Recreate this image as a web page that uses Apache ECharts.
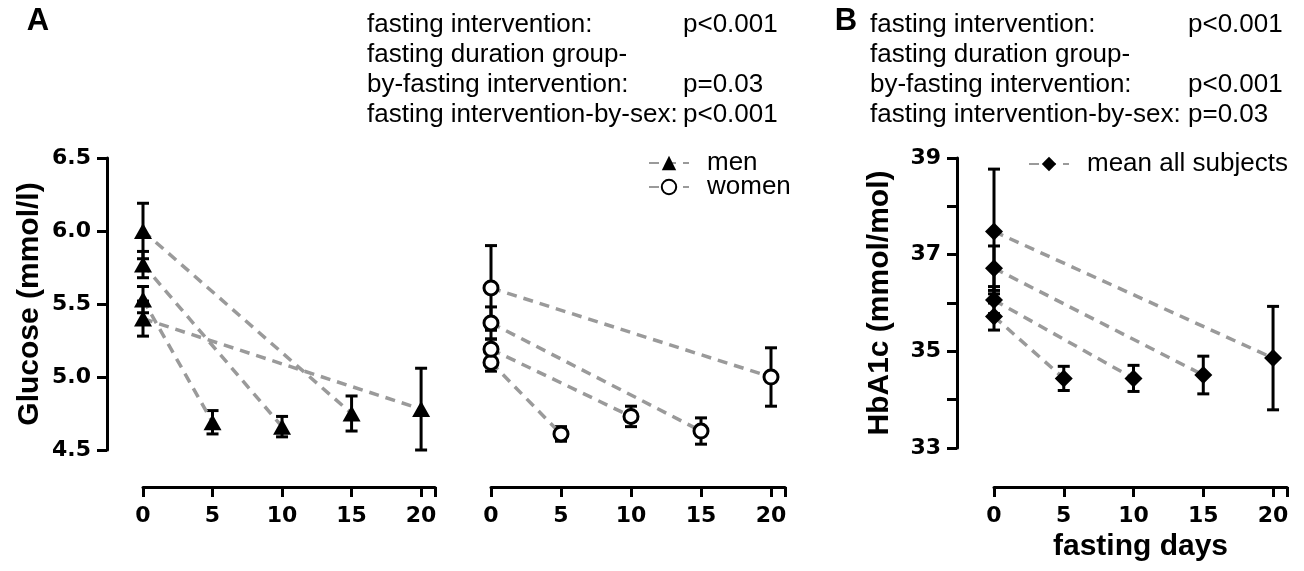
<!DOCTYPE html>
<html><head><meta charset="utf-8">
<script src="https://cdn.jsdelivr.net/npm/echarts@6/dist/echarts.min.js"></script>
<style>html,body{margin:0;padding:0;background:#fff}#c{width:1304px;height:571px}</style>
</head><body><div id="c"></div><script>
// ---- data ----
const durations = [5, 10, 15, 20];
const menBaseMean = [5.53, 5.77, 6.00, 5.40];
const menBaseErr = [0.09, 0.09, 0.19, 0.12];
const menPostMean = [4.69, 4.66, 4.75, 4.78];
const menPostErr = [0.08, 0.07, 0.12, 0.28];
const womenBaseMean = [5.10, 5.19, 5.37, 5.61];
const womenBaseErr = [0.06, 0.07, 0.11, 0.29];
const womenPostMean = [4.61, 4.73, 4.63, 5.00];
const womenPostErr = [0.05, 0.07, 0.09, 0.20];
const hbaBaseMean = [35.72, 36.06, 36.72, 37.48];
const hbaBaseErr = [0.28, 0.28, 0.46, 1.29];
const hbaPostMean = [34.44, 34.44, 34.51, 34.86];
const hbaPostErr = [0.25, 0.27, 0.39, 1.07];
const xTicks = [0, 5, 10, 15, 20];
const xAxisEnd = 21;
const glucoseTicks = [4.5, 5.0, 5.5, 6.0, 6.5];
const hbaTicks = [33, 34, 35, 36, 37, 38, 39];
const hbaLabelled = [33, 35, 37, 39];
const statsA = [['fasting intervention:', 'p<0.001'], ['fasting duration group-', ''], ['by-fasting intervention:', 'p=0.03'], ['fasting intervention-by-sex:', 'p<0.001']];
const statsB = [['fasting intervention:', 'p<0.001'], ['fasting duration group-', ''], ['by-fasting intervention:', 'p<0.001'], ['fasting intervention-by-sex:', 'p=0.03']];

// ---- styles ----
const BLACK = '#000';
const GRAY = '#9a9a9a';
const tickFont = {fontFamily: 'DejaVu Sans', fontWeight: 'bold', fontSize: 22, color: BLACK};
const titleFont = {fontFamily: 'Liberation Sans', fontWeight: 'bold', fontSize: 30, color: BLACK, verticalAlign: 'middle'};
const axisLine = {show: true, onZero: false, lineStyle: {color: BLACK, width: 3}};
const axisTick = {show: true, length: 10, lineStyle: {color: BLACK, width: 3}};

function xAxisCfg(gridIndex, extra) {
  return Object.assign({
    type: 'value', gridIndex, min: xTicks[0], max: xAxisEnd, interval: xTicks[1] - xTicks[0],
    offset: 37, axisLine, axisTick, splitLine: {show: false},
    axisLabel: Object.assign({margin: 18, formatter: v => xTicks.indexOf(v) >= 0 ? String(v) : ''}, tickFont)
  }, extra || {});
}

function errRender(params, api) {
  const x = api.value(0), lo = api.value(1), hi = api.value(2);
  const a = api.coord([x, lo]), b = api.coord([x, hi]);
  const w = 6;
  const st = {stroke: BLACK, lineWidth: 3, fill: null};
  return {type: 'group', children: [
    {type: 'line', shape: {x1: a[0], y1: a[1], x2: b[0], y2: b[1]}, style: st},
    {type: 'line', shape: {x1: a[0] - w, y1: a[1], x2: a[0] + w, y2: a[1]}, style: st},
    {type: 'line', shape: {x1: b[0] - w, y1: b[1], x2: b[0] + w, y2: b[1]}, style: st}
  ]};
}

const series = [];
function addGroup(name, axisIdx, baseM, baseE, postM, postE, symbol, symbolSize, itemStyle) {
  const err = [];
  durations.forEach((d, i) => {
    series.push({
      name, type: 'line', xAxisIndex: axisIdx, yAxisIndex: axisIdx,
      data: [[0, baseM[i]], [d, postM[i]]],
      symbol, symbolSize, showSymbol: true, itemStyle,
      lineStyle: {color: GRAY, width: 3.5, type: [10, 7]},
      z: 3, silent: true
    });
    err.push([0, baseM[i] - baseE[i], baseM[i] + baseE[i]]);
    err.push([d, postM[i] - postE[i], postM[i] + postE[i]]);
  });
  series.push({type: 'custom', xAxisIndex: axisIdx, yAxisIndex: axisIdx, renderItem: errRender, data: err, z: 2, silent: true});
}
addGroup('men', 0, menBaseMean, menBaseErr, menPostMean, menPostErr, 'triangle', [18, 16], {color: BLACK});
addGroup('women', 1, womenBaseMean, womenBaseErr, womenPostMean, womenPostErr, 'circle', 14, {color: '#fff', borderColor: BLACK, borderWidth: 3});
addGroup('mean all subjects', 2, hbaBaseMean, hbaBaseErr, hbaPostMean, hbaPostErr, 'diamond', 18, {color: BLACK});

const legendText = {fontFamily: 'Liberation Sans', fontSize: 26, lineHeight: 24, color: BLACK, padding: [0, 0, 0, 13]};

const graphic = [];
function addStats(rows, x1, x2) {
  rows.forEach((r, i) => {
    graphic.push({type: 'text', x: x1, y: 25 + 30 * i, style: {text: r[0], fontFamily: 'Liberation Sans', fontSize: 26, fill: BLACK, verticalAlign: 'middle', align: 'left'}});
    if (r[1]) graphic.push({type: 'text', x: x2, y: 25 + 30 * i, style: {text: r[1], fontFamily: 'Liberation Sans', fontSize: 26, fill: BLACK, verticalAlign: 'middle', align: 'left'}});
  });
}
addStats(statsA, 367, 683);
addStats(statsB, 870, 1188);
graphic.push({type: 'text', x: 38, y: 21, style: {text: 'A', fontFamily: 'Liberation Sans', fontWeight: 'bold', fontSize: 31, fill: BLACK, align: 'center', verticalAlign: 'middle'}});
graphic.push({type: 'text', x: 846, y: 21, style: {text: 'B', fontFamily: 'Liberation Sans', fontWeight: 'bold', fontSize: 31, fill: BLACK, align: 'center', verticalAlign: 'middle'}});

const option = {
  animation: false,
  backgroundColor: '#fff',
  grid: [
    {left: 143, top: 158, width: 292, height: 292},
    {left: 491, top: 158, width: 294, height: 292},
    {left: 994, top: 158, width: 293, height: 290}
  ],
  xAxis: [
    xAxisCfg(0),
    xAxisCfg(1),
    xAxisCfg(2, {offset: 39, name: 'fasting days', nameLocation: 'middle', nameGap: 60, nameTextStyle: titleFont})
  ],
  yAxis: [
    {type: 'value', gridIndex: 0, min: glucoseTicks[0], max: glucoseTicks[glucoseTicks.length - 1], interval: glucoseTicks[1] - glucoseTicks[0],
     offset: 36, axisLine, axisTick, splitLine: {show: false},
     axisLabel: Object.assign({margin: 16, formatter: v => v.toFixed(1)}, tickFont),
     name: 'Glucose (mmol/l)', nameLocation: 'middle', nameGap: 77, nameRotate: 90, nameTextStyle: titleFont},
    {type: 'value', gridIndex: 1, min: glucoseTicks[0], max: glucoseTicks[glucoseTicks.length - 1], show: false},
    {type: 'value', gridIndex: 2, min: hbaTicks[0], max: hbaTicks[hbaTicks.length - 1], interval: hbaTicks[1] - hbaTicks[0],
     offset: 37, axisLine, axisTick, splitLine: {show: false},
     axisLabel: Object.assign({margin: 16, formatter: v => hbaLabelled.indexOf(v) >= 0 ? String(v) : ''}, tickFont),
     name: 'HbA1c (mmol/mol)', nameLocation: 'middle', nameGap: 77, nameRotate: 90, nameTextStyle: titleFont}
  ],
  legend: [
    {data: ['men', 'women'], orient: 'vertical', left: 643, top: 145, itemWidth: 40, itemHeight: 18, itemGap: -2, textStyle: legendText, selectedMode: false},
    {data: ['mean all subjects'], orient: 'vertical', left: 1023, top: 146, itemWidth: 40, itemHeight: 18, textStyle: legendText, selectedMode: false}
  ],
  graphic,
  series
};
const chart = echarts.init(document.getElementById('c'));
chart.setOption(option);
</script></body></html>
